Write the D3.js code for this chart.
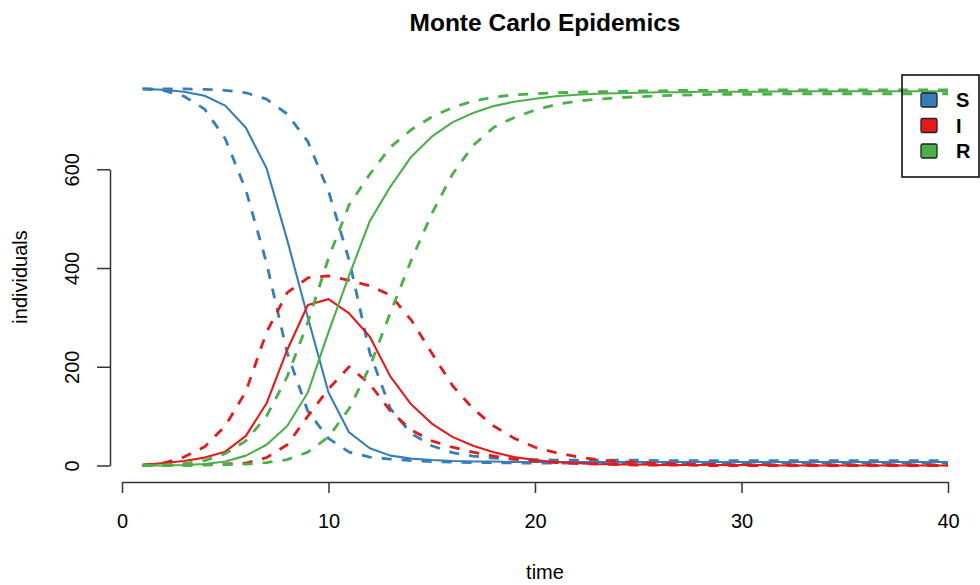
<!DOCTYPE html>
<meta charset="utf-8">
<style>
body { margin: 0; background: #fff; }
svg { font-family: "Liberation Sans", Arial, sans-serif; }
.axis line, .axis path { stroke: #333; stroke-width: 1.5; fill: none; }
</style>
<svg width="980" height="585"></svg>
<script src="https://d3js.org/d3.v7.min.js"></script>
<script>

var time = [1, 2, 3, 4, 5, 6, 7, 8, 9, 10, 11, 12, 13, 14, 15, 16, 17, 18, 19, 20,
	21, 22, 23, 24, 25, 26, 27, 28, 29, 30, 31, 32, 33, 34, 35, 36, 37, 38, 39, 40];

var S_mean  = [763, 761, 757, 749, 729, 684, 602, 457, 300, 148, 67, 35, 20, 14, 11, 9, 8, 8, 7, 7,
	7, 7, 7, 7, 7, 7, 7, 7, 7, 7, 7, 7, 7, 7, 7, 7, 7, 7, 7, 7];
var S_upper = [763, 763, 763, 762, 760, 755, 742, 712, 656, 556, 416, 228, 115, 65, 40, 26, 19, 15, 13, 12,
	11, 11, 11, 11, 11, 10, 10, 10, 10, 10, 10, 10, 10, 10, 10, 10, 10, 10, 10, 10];
var S_lower = [763, 760, 748, 722, 662, 558, 410, 228, 110, 55, 27, 17, 13, 10, 8, 7, 6, 6, 5, 5,
	5, 5, 5, 5, 5, 5, 5, 5, 5, 5, 5, 5, 5, 5, 5, 5, 5, 5, 5, 5];

var I_mean  = [1, 5, 9, 16, 28, 60, 126, 234, 325, 337, 308, 261, 180, 124, 85, 58, 40, 27, 17, 11,
	7, 5, 3, 2, 2, 1, 1, 1, 1, 1, 1, 0, 0, 0, 0, 0, 0, 0, 0, 0];
var I_upper = [1, 5, 17, 38, 80, 150, 270, 350, 380, 384, 375, 364, 345, 295, 228, 162, 115, 80, 55, 37,
	26, 18, 12, 8, 6, 4, 3, 2, 2, 1, 1, 1, 1, 1, 1, 1, 1, 1, 1, 1];
var I_lower = [0, 0, 1, 2, 3, 5, 16, 42, 100, 155, 200, 165, 110, 72, 50, 37, 27, 19, 13, 9,
	6, 4, 3, 2, 1, 1, 1, 0, 0, 0, 0, 0, 0, 0, 0, 0, 0, 0, 0, 0];

var R_mean  = [0, 0, 1, 3, 8, 20, 42, 80, 148, 270, 385, 495, 565, 625, 666, 695, 714, 728, 737, 743,
	748, 751, 753, 754, 755, 756, 756, 757, 757, 757, 757, 758, 758, 758, 758, 758, 758, 758, 758, 758];
var R_upper = [0, 1, 4, 10, 24, 50, 100, 180, 290, 420, 528, 590, 645, 680, 706, 725, 738, 746, 751, 753,
	755, 756, 757, 758, 759, 759, 760, 760, 760, 760, 761, 761, 761, 761, 761, 761, 761, 761, 761, 761];
var R_lower = [0, 0, 0, 1, 2, 3, 6, 12, 27, 58, 115, 200, 310, 415, 510, 590, 648, 685, 705, 720,
	731, 738, 742, 745, 747, 749, 750, 751, 752, 752, 752, 753, 753, 753, 753, 753, 753, 753, 753, 753];

var xTicks = [0, 10, 20, 30, 40],
	yTicks = [0, 200, 400, 600];

var legendLabels = ["S", "I", "R"],
	colors = ["#377EB8", "#E41A1C", "#4DAF4A"];

var series = [
	{values: S_mean, color: colors[0], dashed: false},
	{values: S_upper, color: colors[0], dashed: true},
	{values: S_lower, color: colors[0], dashed: true},
	{values: I_mean, color: colors[1], dashed: false},
	{values: I_upper, color: colors[1], dashed: true},
	{values: I_lower, color: colors[1], dashed: true},
	{values: R_mean, color: colors[2], dashed: false},
	{values: R_upper, color: colors[2], dashed: true},
	{values: R_lower, color: colors[2], dashed: true}
];

var svg = d3.select("svg");

var x = d3.scaleLinear().domain([0, 40]).range([122, 948]),
	y = d3.scaleLinear().domain([0, 600]).range([465.5, 169.3]);

var line = d3.line()
	.x(function(d, i) { return x(time[i]); })
	.y(function(d) { return y(d); });

svg.append("g")
	.selectAll("path")
	.data(series)
	.enter().append("path")
		.attr("d", function(d) { return line(d.values); })
		.attr("fill", "none")
		.attr("stroke", function(d) { return d.color; })
		.attr("stroke-width", function(d) { return d.dashed ? 2.8 : 2.1; })
		.attr("stroke-dasharray", function(d) { return d.dashed ? "10,10" : null; })
		.attr("stroke-linejoin", "round");

// axes
var xAxis = svg.append("g")
	.attr("class", "axis")
	.attr("transform", "translate(0,482)")
	.call(d3.axisBottom(x).tickValues(xTicks).tickSize(11).tickSizeOuter(0).tickPadding(21));

xAxis.selectAll("text").attr("font-size", 20).attr("fill", "#000").attr("font-family", null);

var yAxis = svg.append("g")
	.attr("class", "axis")
	.attr("transform", "translate(110,0)")
	.call(d3.axisLeft(y).tickValues(yTicks).tickSize(13).tickSizeOuter(0));

yAxis.selectAll("text")
	.attr("font-size", 20)
	.attr("fill", "#000")
	.attr("font-family", null)
	.attr("text-anchor", "middle")
	.attr("x", null)
	.attr("dy", null)
	.attr("transform", "translate(-31,0) rotate(-90)");

svg.append("text")
	.attr("x", 545)
	.attr("y", 31)
	.attr("text-anchor", "middle")
	.attr("font-size", 24.5)
	.attr("font-weight", "bold")
	.text("Monte Carlo Epidemics");

svg.append("text")
	.attr("x", 545)
	.attr("y", 579)
	.attr("text-anchor", "middle")
	.attr("font-size", 20)
	.text("time");

svg.append("text")
	.attr("transform", "translate(27,277) rotate(-90)")
	.attr("text-anchor", "middle")
	.attr("font-size", 20)
	.text("individuals");

// legend
var legend = svg.append("g");

legend.append("rect")
	.attr("x", 902)
	.attr("y", 75)
	.attr("width", 77)
	.attr("height", 102)
	.attr("fill", "none")
	.attr("stroke", "#000")
	.attr("stroke-width", 1.5);

var item = legend.selectAll("g.item")
	.data(legendLabels)
	.enter().append("g")
		.attr("class", "item")
		.attr("transform", function(d, i) { return "translate(0," + (100 + i * 25.5) + ")"; });

item.append("rect")
	.attr("x", 921)
	.attr("y", -7)
	.attr("width", 16)
	.attr("height", 14)
	.attr("rx", 1.5)
	.attr("fill", function(d, i) { return colors[i]; })
	.attr("stroke", "#222")
	.attr("stroke-width", 1.3);

item.append("text")
	.attr("x", 956)
	.attr("y", 7)
	.attr("font-size", 20)
	.attr("font-weight", "bold")
	.text(function(d) { return d; });

</script>
